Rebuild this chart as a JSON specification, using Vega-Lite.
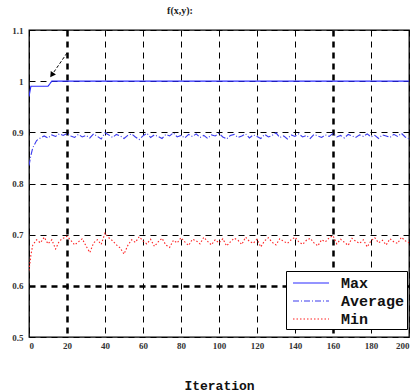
{
  "$schema": "https://vega.github.io/schema/vega-lite/v6.json",
  "width": 380,
  "height": 307,
  "autosize": {"type": "none"},
  "padding": {"left": 29, "top": 30, "right": 6, "bottom": 55},
  "background": "white",
  "title": {"text": "f(x,y):", "font": "Liberation Serif", "fontSize": 10, "fontWeight": "bold", "color": "#222", "dx": -39, "offset": 10},
  "config": {
    "view": {"stroke": "black", "strokeWidth": 1.3},
    "axis": {"labelFont": "Liberation Serif", "labelFontWeight": "bold", "labelFontSize": 9, "labelColor": "#333", "ticks": false, "domain": false, "grid": true, "gridColor": "black", "gridOpacity": 1, "labelOverlap": false}
  },
  "datasets": {
    "arrow": [{"x1": 20, "y1": 1.055, "x2": 12, "y2": 1.012}]
  },
  "data": {"values": [
    {"it":0,"Max":0.97,"Average":0.835,"Min":0.630},
    {"it":1,"Max":0.99,"Average":0.855,"Min":0.660},
    {"it":2,"Max":0.99,"Average":0.870,"Min":0.680},
    {"it":4,"Max":0.99,"Average":0.884,"Min":0.690},
    {"it":6,"Max":0.99,"Average":0.889,"Min":0.684},
    {"it":8,"Max":0.99,"Average":0.893,"Min":0.695},
    {"it":10,"Max":0.99,"Average":0.889,"Min":0.682},
    {"it":12,"Max":1.0,"Average":0.895,"Min":0.690},
    {"it":14,"Max":1.0,"Average":0.892,"Min":0.672},
    {"it":16,"Max":1.0,"Average":0.897,"Min":0.688},
    {"it":18,"Max":1.0,"Average":0.894,"Min":0.693},
    {"it":20,"Max":1.0,"Average":0.898,"Min":0.697},
    {"it":22,"Max":1.0,"Average":0.893,"Min":0.689},
    {"it":24,"Max":1.0,"Average":0.890,"Min":0.680},
    {"it":26,"Max":1.0,"Average":0.896,"Min":0.686},
    {"it":28,"Max":1.0,"Average":0.891,"Min":0.692},
    {"it":30,"Max":1.0,"Average":0.894,"Min":0.678},
    {"it":32,"Max":1.0,"Average":0.889,"Min":0.665},
    {"it":34,"Max":1.0,"Average":0.897,"Min":0.684},
    {"it":36,"Max":1.0,"Average":0.892,"Min":0.690},
    {"it":38,"Max":1.0,"Average":0.887,"Min":0.681},
    {"it":40,"Max":1.0,"Average":0.899,"Min":0.703},
    {"it":42,"Max":1.0,"Average":0.895,"Min":0.694},
    {"it":44,"Max":1.0,"Average":0.890,"Min":0.688},
    {"it":46,"Max":1.0,"Average":0.896,"Min":0.680},
    {"it":48,"Max":1.0,"Average":0.893,"Min":0.674},
    {"it":50,"Max":1.0,"Average":0.888,"Min":0.662},
    {"it":52,"Max":1.0,"Average":0.894,"Min":0.679},
    {"it":54,"Max":1.0,"Average":0.897,"Min":0.690},
    {"it":56,"Max":1.0,"Average":0.891,"Min":0.685},
    {"it":58,"Max":1.0,"Average":0.886,"Min":0.696},
    {"it":60,"Max":1.0,"Average":0.893,"Min":0.688},
    {"it":62,"Max":1.0,"Average":0.898,"Min":0.682},
    {"it":64,"Max":1.0,"Average":0.890,"Min":0.691},
    {"it":66,"Max":1.0,"Average":0.895,"Min":0.677},
    {"it":68,"Max":1.0,"Average":0.892,"Min":0.686},
    {"it":70,"Max":1.0,"Average":0.888,"Min":0.693},
    {"it":72,"Max":1.0,"Average":0.896,"Min":0.680},
    {"it":74,"Max":1.0,"Average":0.893,"Min":0.675},
    {"it":76,"Max":1.0,"Average":0.899,"Min":0.689},
    {"it":78,"Max":1.0,"Average":0.891,"Min":0.684},
    {"it":80,"Max":1.0,"Average":0.894,"Min":0.694},
    {"it":82,"Max":1.0,"Average":0.889,"Min":0.686},
    {"it":84,"Max":1.0,"Average":0.896,"Min":0.679},
    {"it":86,"Max":1.0,"Average":0.892,"Min":0.691},
    {"it":88,"Max":1.0,"Average":0.897,"Min":0.688},
    {"it":90,"Max":1.0,"Average":0.890,"Min":0.682},
    {"it":92,"Max":1.0,"Average":0.894,"Min":0.695},
    {"it":94,"Max":1.0,"Average":0.888,"Min":0.687},
    {"it":96,"Max":1.0,"Average":0.895,"Min":0.680},
    {"it":98,"Max":1.0,"Average":0.893,"Min":0.690},
    {"it":100,"Max":1.0,"Average":0.898,"Min":0.684},
    {"it":102,"Max":1.0,"Average":0.891,"Min":0.692},
    {"it":104,"Max":1.0,"Average":0.887,"Min":0.678},
    {"it":106,"Max":1.0,"Average":0.894,"Min":0.686},
    {"it":108,"Max":1.0,"Average":0.896,"Min":0.693},
    {"it":110,"Max":1.0,"Average":0.890,"Min":0.689},
    {"it":112,"Max":1.0,"Average":0.893,"Min":0.681},
    {"it":114,"Max":1.0,"Average":0.897,"Min":0.695},
    {"it":116,"Max":1.0,"Average":0.889,"Min":0.687},
    {"it":118,"Max":1.0,"Average":0.895,"Min":0.683},
    {"it":120,"Max":1.0,"Average":0.892,"Min":0.691},
    {"it":122,"Max":1.0,"Average":0.888,"Min":0.676},
    {"it":124,"Max":1.0,"Average":0.896,"Min":0.688},
    {"it":126,"Max":1.0,"Average":0.891,"Min":0.694},
    {"it":128,"Max":1.0,"Average":0.894,"Min":0.685},
    {"it":130,"Max":1.0,"Average":0.899,"Min":0.680},
    {"it":132,"Max":1.0,"Average":0.890,"Min":0.692},
    {"it":134,"Max":1.0,"Average":0.893,"Min":0.687},
    {"it":136,"Max":1.0,"Average":0.887,"Min":0.683},
    {"it":138,"Max":1.0,"Average":0.895,"Min":0.690},
    {"it":140,"Max":1.0,"Average":0.892,"Min":0.695},
    {"it":142,"Max":1.0,"Average":0.897,"Min":0.686},
    {"it":144,"Max":1.0,"Average":0.891,"Min":0.681},
    {"it":146,"Max":1.0,"Average":0.894,"Min":0.689},
    {"it":148,"Max":1.0,"Average":0.888,"Min":0.693},
    {"it":150,"Max":1.0,"Average":0.896,"Min":0.684},
    {"it":152,"Max":1.0,"Average":0.893,"Min":0.678},
    {"it":154,"Max":1.0,"Average":0.890,"Min":0.690},
    {"it":156,"Max":1.0,"Average":0.895,"Min":0.686},
    {"it":158,"Max":1.0,"Average":0.892,"Min":0.694},
    {"it":160,"Max":1.0,"Average":0.898,"Min":0.698},
    {"it":162,"Max":1.0,"Average":0.891,"Min":0.682},
    {"it":164,"Max":1.0,"Average":0.894,"Min":0.691},
    {"it":166,"Max":1.0,"Average":0.889,"Min":0.685},
    {"it":168,"Max":1.0,"Average":0.896,"Min":0.679},
    {"it":170,"Max":1.0,"Average":0.893,"Min":0.693},
    {"it":172,"Max":1.0,"Average":0.890,"Min":0.687},
    {"it":174,"Max":1.0,"Average":0.895,"Min":0.683},
    {"it":176,"Max":1.0,"Average":0.892,"Min":0.690},
    {"it":178,"Max":1.0,"Average":0.897,"Min":0.676},
    {"it":180,"Max":1.0,"Average":0.891,"Min":0.688},
    {"it":182,"Max":1.0,"Average":0.894,"Min":0.694},
    {"it":184,"Max":1.0,"Average":0.888,"Min":0.684},
    {"it":186,"Max":1.0,"Average":0.895,"Min":0.689},
    {"it":188,"Max":1.0,"Average":0.893,"Min":0.680},
    {"it":190,"Max":1.0,"Average":0.890,"Min":0.692},
    {"it":192,"Max":1.0,"Average":0.896,"Min":0.686},
    {"it":194,"Max":1.0,"Average":0.892,"Min":0.683},
    {"it":196,"Max":1.0,"Average":0.898,"Min":0.695},
    {"it":198,"Max":1.0,"Average":0.891,"Min":0.688},
    {"it":200,"Max":1.0,"Average":0.887,"Min":0.684}
  ]},
  "layer": [
    {
      "transform": [{"fold": ["Max", "Average", "Min"], "as": ["series", "value"]}],
      "mark": {"type": "line", "strokeWidth": 1.1, "clip": true},
      "encoding": {
        "x": {"field": "it", "type": "quantitative", "scale": {"domain": [0, 200], "nice": false},
          "axis": {"values": [0,20,40,60,80,100,120,140,160,180,200], "tickCount": 20, "labelPadding": 4, "title": "Iteration", "titleFont": "Liberation Mono", "titleFontSize": 13, "titleFontWeight": "bold", "titleColor": "#111", "titlePadding": 29,
            "gridDash": [6, 5],
            "gridWidth": {"condition": {"test": "datum.value == 20 || datum.value == 160", "value": 2.5}, "value": 1}}},
        "y": {"field": "value", "type": "quantitative", "scale": {"domain": [0.5, 1.1], "nice": false, "zero": false},
          "axis": {"values": [0.5,0.6,0.7,0.8,0.9,1.0,1.1], "tickCount": 20, "format": ".1~f", "labelPadding": 6, "title": null,
            "gridDash": [6, 5],
            "gridWidth": {"condition": {"test": "abs(datum.value - 0.6) < 0.001", "value": 2.5}, "value": 1}}},
        "color": {"field": "series", "type": "nominal", "sort": ["Max", "Average", "Min"],
          "scale": {"domain": ["Max", "Average", "Min"], "range": ["#2b2bff", "#3a3aee", "#ff2020"]},
          "legend": {"orient": "none", "legendX": 257, "legendY": 241, "title": null, "strokeColor": "black", "fillColor": "white", "padding": 2, "symbolType": "M-2,0H2", "symbolSize": 324, "symbolOffset": 13, "symbolStrokeWidth": 1.2, "labelFont": "Liberation Mono", "labelFontWeight": "bold", "labelFontSize": 15, "labelColor": "#111", "rowPadding": 0, "labelOffset": 20, "offset": 0}},
        "strokeDash": {"field": "series", "type": "nominal", "sort": ["Max", "Average", "Min"],
          "scale": {"domain": ["Max", "Average", "Min"], "range": [[1, 0], [6, 2, 1, 2], [1.5, 2]]},
          "legend": null}
      }
    },
    {
      "data": {"name": "arrow"},
      "mark": {"type": "rule", "color": "black", "strokeWidth": 1, "strokeDash": [3, 2]},
      "encoding": {
        "x": {"field": "x1", "type": "quantitative"},
        "y": {"field": "y1", "type": "quantitative"},
        "x2": {"field": "x2"},
        "y2": {"field": "y2"}
      }
    },
    {
      "data": {"name": "arrow"},
      "mark": {"type": "point", "shape": "triangle-up", "filled": true, "color": "black", "size": 40, "angle": 215, "opacity": 1},
      "encoding": {
        "x": {"field": "x2", "type": "quantitative"},
        "y": {"field": "y2", "type": "quantitative"}
      }
    }
  ]
}
